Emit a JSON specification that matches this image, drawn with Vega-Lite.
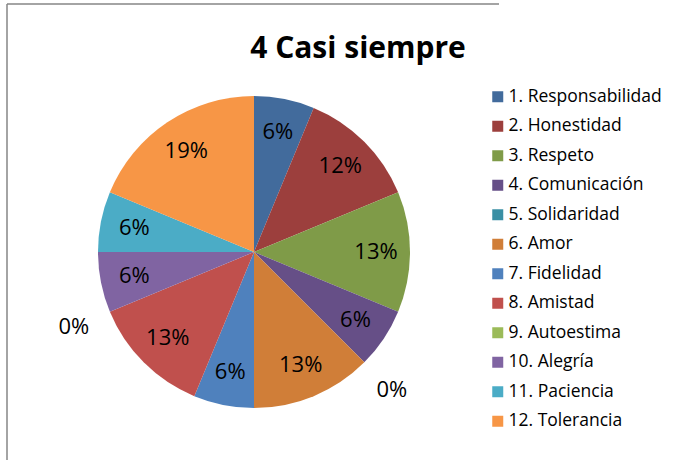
{
  "$schema": "https://vega.github.io/schema/vega-lite/v6.json",
  "autosize": {"type": "none"},
  "padding": {"left": 7, "top": 4, "right": 199, "bottom": -40},
  "width": 494,
  "height": 496,
  "background": "white",
  "view": {"stroke": "#868686", "strokeWidth": 1.5, "strokeDash": [492, 992, 496, 0]},
  "title": {
    "text": "4 Casi siempre",
    "font": "Open Sans",
    "fontSize": 30,
    "fontWeight": "bold",
    "color": "black",
    "anchor": "middle",
    "frame": "group",
    "baseline": "alphabetic",
    "dx": 104,
    "offset": -84
  },
  "data": {
    "values": [
      {"ord": 1, "cat": "1. Responsabilidad", "n": 1, "pct": 0.06},
      {"ord": 2, "cat": "2. Honestidad", "n": 2, "pct": 0.12},
      {"ord": 3, "cat": "3. Respeto", "n": 2, "pct": 0.13},
      {"ord": 4, "cat": "4. Comunicación", "n": 1, "pct": 0.06},
      {"ord": 5, "cat": "5. Solidaridad", "n": 0, "pct": 0.0},
      {"ord": 6, "cat": "6. Amor", "n": 2, "pct": 0.13},
      {"ord": 7, "cat": "7. Fidelidad", "n": 1, "pct": 0.06},
      {"ord": 8, "cat": "8. Amistad", "n": 2, "pct": 0.13},
      {"ord": 9, "cat": "9. Autoestima", "n": 0, "pct": 0.0},
      {"ord": 10, "cat": "10. Alegría", "n": 1, "pct": 0.06},
      {"ord": 11, "cat": "11. Paciencia", "n": 1, "pct": 0.06},
      {"ord": 12, "cat": "12. Tolerancia", "n": 3, "pct": 0.19}
    ]
  },
  "encoding": {
    "theta": {"field": "n", "type": "quantitative", "stack": true},
    "order": {"field": "ord", "type": "quantitative"},
    "color": {
      "field": "cat",
      "type": "nominal",
      "sort": null,
      "scale": {
        "domain": ["1. Responsabilidad", "2. Honestidad", "3. Respeto", "4. Comunicación", "5. Solidaridad", "6. Amor", "7. Fidelidad", "8. Amistad", "9. Autoestima", "10. Alegría", "11. Paciencia", "12. Tolerancia"],
        "range": ["#426B9C", "#9C3F3D", "#7F9B48", "#664F87", "#3A8FA4", "#D07E38", "#4F81BD", "#C0504D", "#9BBB59", "#8064A2", "#4BACC6", "#F79646"]
      },
      "legend": {
        "title": null,
        "orient": "none",
        "legendX": 482,
        "legendY": 84,
        "padding": 0,
        "symbolType": "square",
        "symbolSize": 121,
        "symbolStrokeWidth": 0,
        "symbolOpacity": 1,
        "labelFont": "Open Sans",
        "labelFontSize": 17.5,
        "labelColor": "black",
        "labelOffset": 2,
        "rowPadding": 10.5,
        "labelLimit": 300
      }
    }
  },
  "layer": [
    {"mark": {"type": "arc", "outerRadius": 156}},
    {
      "mark": {"type": "text", "font": "Open Sans", "fontSize": 22, "color": "black"},
      "encoding": {
        "text": {"field": "pct", "type": "quantitative", "format": ".0%"},
        "radius": {"field": "n", "type": "quantitative", "scale": {"type": "linear", "domain": [0, 1], "range": [195, 122], "clamp": true, "zero": false}},
        "color": {"value": "black"}
      }
    }
  ]
}
